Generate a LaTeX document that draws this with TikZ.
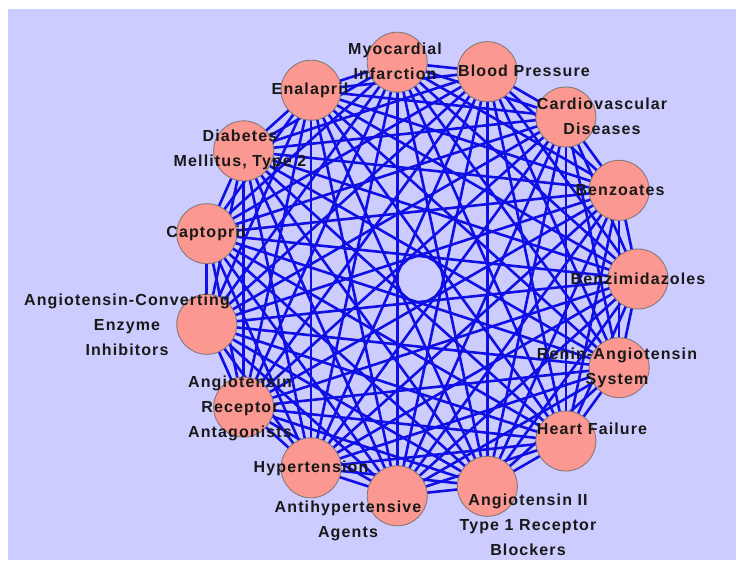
\documentclass[tikz,border=0pt]{standalone}
\usepackage{fontspec}
\setmainfont{Liberation Sans}[LetterSpace=7]
\usetikzlibrary{backgrounds}
\definecolor{bgc}{RGB}{204,204,255}
\definecolor{nodefill}{RGB}{250,152,145}
\definecolor{nodeedge}{RGB}{135,120,120}
\definecolor{edgec}{RGB}{15,15,230}
\definecolor{txt}{RGB}{25,25,25}
\pgfdeclarelayer{bg}
\pgfdeclarelayer{edges}
\pgfsetlayers{bg,edges,main}
\tikzset{
  vert/.style={circle, fill=nodefill, draw=nodeedge, line width=0.9pt, minimum size=60pt, inner sep=0pt},
  edge/.style={draw=edgec, line width=2.6pt},
  lab/.style={font=\bfseries\fontsize{16}{25}\selectfont, align=center, text=txt, inner sep=0pt}
}
\begin{document}
\begin{tikzpicture}[x=1pt,y=-1pt]
\useasboundingbox (0,0) rectangle (736,560);
\begin{pgfonlayer}{bg}
\fill[white] (0,0) rectangle (736,560);
\fill[bgc] (8,9) rectangle (736,560);
\end{pgfonlayer}
\foreach \k in {0,...,14}
  \node[vert] (n\k) at ({420+218*cos(96-24*\k)},{279-218*sin(96-24*\k)}) {};
\begin{pgfonlayer}{edges}
\foreach \i in {0,...,13} {
  \pgfmathtruncatemacro\s{\i+1}
  \foreach \j in {\s,...,14}
    \draw[edge] (n\i.center) -- (n\j.center);
}
\end{pgfonlayer}
\node[lab] (l0) at (395,61) {Myocardial\\Infarction};
\node[lab] (l1) at (524,71) {Blood Pressure};
\node[lab] (l2) at (602,116) {Cardiovascular\\Diseases};
\node[lab] (l3) at (620,190) {Benzoates};
\node[lab] (l4) at (638,279) {Benzimidazoles};
\node[lab] (l5) at (617,368) {Renin-Angiotensin\\System};
\node[lab] (l6) at (592,429) {Heart Failure};
\node[lab] (l7) at (528,525) {Angiotensin II\\Type 1 Receptor\\Blockers};
\node[lab] (l8) at (348,521) {Antihypertensive\\Agents};
\node[lab] (l9) at (311,468) {Hypertension};
\node[lab] (l10) at (240,408) {Angiotensin\\Receptor\\Antagonists};
\node[lab] (l11) at (127,325) {Angiotensin-Converting\\Enzyme\\Inhibitors};
\node[lab] (l12) at (206,233) {Captopril};
\node[lab] (l13) at (240,150) {Diabetes\\Mellitus, Type 2};
\node[lab] (l14) at (310,90) {Enalapril};
\end{tikzpicture}
\end{document}
